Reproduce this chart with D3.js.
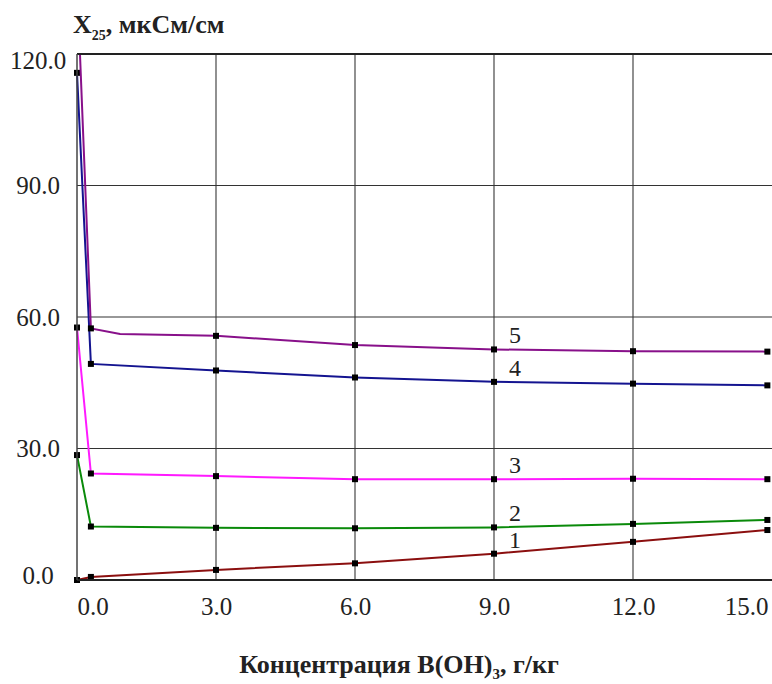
<!DOCTYPE html>
<html>
<head>
<meta charset="utf-8">
<script src="https://cdn.jsdelivr.net/npm/d3@7"></script>
<style>
  body { margin: 0; background: #fff; }
  svg { display: block; font-family: "Liberation Serif", "Times New Roman", serif; }
</style>
</head>
<body>
<div class="container"></div>
<script>
// concentration of B(OH)3, g/kg
var xValues = [0, 0.3, 3, 6, 9, 12, 14.9];

// conductivity X25, uS/cm, curves 1..5
var curve1 = [0, 0.7, 2.3, 3.8, 6.0, 8.7, 11.4];
var curve2 = [28.5, 12.2, 11.9, 11.8, 12.0, 12.8, 13.7];
var curve3 = [57.6, 24.3, 23.7, 23.0, 23.0, 23.1, 23.0];
var curve4 = [115.7, 49.3, 47.8, 46.2, 45.2, 44.8, 44.4];
var curve5 = [137, 57.4, 55.7, 53.6, 52.6, 52.2, 52.1];
// curve 5 has one bend without a marker
var curve5Bend = {x: 0.93, y: 56.1};

var curveNames = ["1", "2", "3", "4", "5"];
var curveColors = ["#8b0f0f", "#0a8a0a", "#ff1aff", "#141490", "#88108a"];

var xTicks = [0, 3, 6, 9, 12, 15];
var yTicks = [0, 30, 60, 90, 120];

var width = 772, height = 684;
var plotLeft = 77, plotRight = 772, plotTop = 54, plotBottom = 580;

var svg = d3.select(".container")
    .insert("svg")
    .attr("width", width)
    .attr("height", height);

var x = d3.scaleLinear().domain([0, 15]).range([plotLeft, plotRight]);
var y = d3.scaleLinear().domain([0, 120]).range([plotBottom, plotTop]);

svg.append("defs").append("clipPath").attr("id", "plot")
    .append("rect")
    .attr("x", plotLeft - 6).attr("y", plotTop)
    .attr("width", plotRight - plotLeft + 6).attr("height", plotBottom - plotTop + 6);

// grid
svg.append("g").selectAll("line")
    .data(xTicks.filter(function(d) { return d > 0 && d < 15; }))
    .enter().append("line")
    .attr("x1", function(d) { return x(d); })
    .attr("x2", function(d) { return x(d); })
    .attr("y1", plotTop).attr("y2", plotBottom)
    .style("stroke", "#555")
    .style("stroke-width", "1.3px");

svg.append("g").selectAll("line")
    .data(yTicks.filter(function(d) { return d > 0 && d < 120; }))
    .enter().append("line")
    .attr("x1", plotLeft).attr("x2", plotRight)
    .attr("y1", function(d) { return y(d); })
    .attr("y2", function(d) { return y(d); })
    .style("stroke", "#333")
    .style("stroke-width", "1.2px");

// curves
var curves = [curve1, curve2, curve3, curve4, curve5];
var line = d3.line()
    .x(function(d) { return x(d.x); })
    .y(function(d) { return y(d.y); });

var plot = svg.append("g").attr("clip-path", "url(#plot)");

curves.forEach(function(vals, i) {
    var pts = xValues.map(function(xv, j) { return {x: xv, y: vals[j]}; });
    var linePts = pts.slice();
    if (i == 4) {
        linePts.push({x: curve5Bend.x, y: curve5Bend.y});
        linePts.sort(function(a, b) { return a.x - b.x; });
    }
    plot.append("path")
        .datum(linePts)
        .attr("d", line)
        .style("fill", "none")
        .style("stroke", curveColors[i])
        .style("stroke-width", "2px");
    plot.append("g").selectAll("rect")
        .data(pts)
        .enter().append("rect")
        .attr("x", function(d) { return x(d.x) - 3; })
        .attr("y", function(d) { return y(d.y) - 3; })
        .attr("width", 6).attr("height", 6)
        .style("fill", "#000");
    // curve number, above the line at x = 9
    svg.append("text")
        .attr("x", x(9) + 21)
        .attr("y", y(vals[4]) - 6)
        .attr("text-anchor", "middle")
        .style("font-size", "24px")
        .style("fill", "#222")
        .text(curveNames[i]);
});

// frame
svg.append("line")
    .attr("x1", plotLeft).attr("x2", plotRight)
    .attr("y1", y(120)).attr("y2", y(120))
    .style("stroke", "#222").style("stroke-width", "2px");
svg.append("line")
    .attr("x1", plotLeft).attr("x2", plotRight)
    .attr("y1", y(0)).attr("y2", y(0))
    .style("stroke", "#222").style("stroke-width", "2px");
svg.append("line")
    .attr("x1", plotLeft).attr("x2", plotLeft)
    .attr("y1", plotTop).attr("y2", plotBottom)
    .style("stroke", "#444").style("stroke-width", "1.5px");

// axes (labels only)
var yAxis = svg.append("g")
    .attr("transform", "translate(" + plotLeft + ",0)")
    .call(d3.axisLeft(y).tickValues(yTicks).tickFormat(d3.format(".1f")).tickSize(0));
yAxis.select(".domain").remove();
yAxis.selectAll("text")
    .attr("x", 38 - plotLeft)
    .attr("text-anchor", "middle")
    .attr("dy", function(d) { return d == 120 ? "14px" : (d == 0 ? "3px" : "8px"); })
    .style("font-size", "25px")
    .style("font-family", "Liberation Serif, serif")
    .style("fill", "#222");

var xAxis = svg.append("g")
    .attr("transform", "translate(0," + plotBottom + ")")
    .call(d3.axisBottom(x).tickValues(xTicks).tickFormat(d3.format(".1f")).tickSize(0));
xAxis.select(".domain").remove();
xAxis.selectAll("text")
    .attr("y", 35)
    .attr("dy", 0)
    .attr("text-anchor", function(d) { return d == 0 ? "start" : (d == 15 ? "end" : "middle"); })
    .attr("dx", function(d) { return d == 15 ? -4 : 0; })
    .style("font-size", "25px")
    .style("font-family", "Liberation Serif, serif")
    .style("fill", "#222");

// titles
var yTitle = svg.append("text")
    .attr("x", 73).attr("y", 33)
    .style("font-size", "26px")
    .style("font-weight", "bold")
    .style("fill", "#222");
yTitle.append("tspan").text("X");
yTitle.append("tspan").attr("dy", 7).style("font-size", "14px").text("25");
yTitle.append("tspan").attr("dy", -7).text(", мкСм/см");

var xTitle = svg.append("text")
    .attr("x", 399).attr("y", 673)
    .attr("text-anchor", "middle")
    .style("font-size", "26px")
    .style("font-weight", "bold")
    .style("fill", "#222");
xTitle.append("tspan").text("Концентрация B(OH)");
xTitle.append("tspan").attr("dy", 6).style("font-size", "15px").text("3");
xTitle.append("tspan").attr("dy", -6).text(", г/кг");
</script>
</body>
</html>
